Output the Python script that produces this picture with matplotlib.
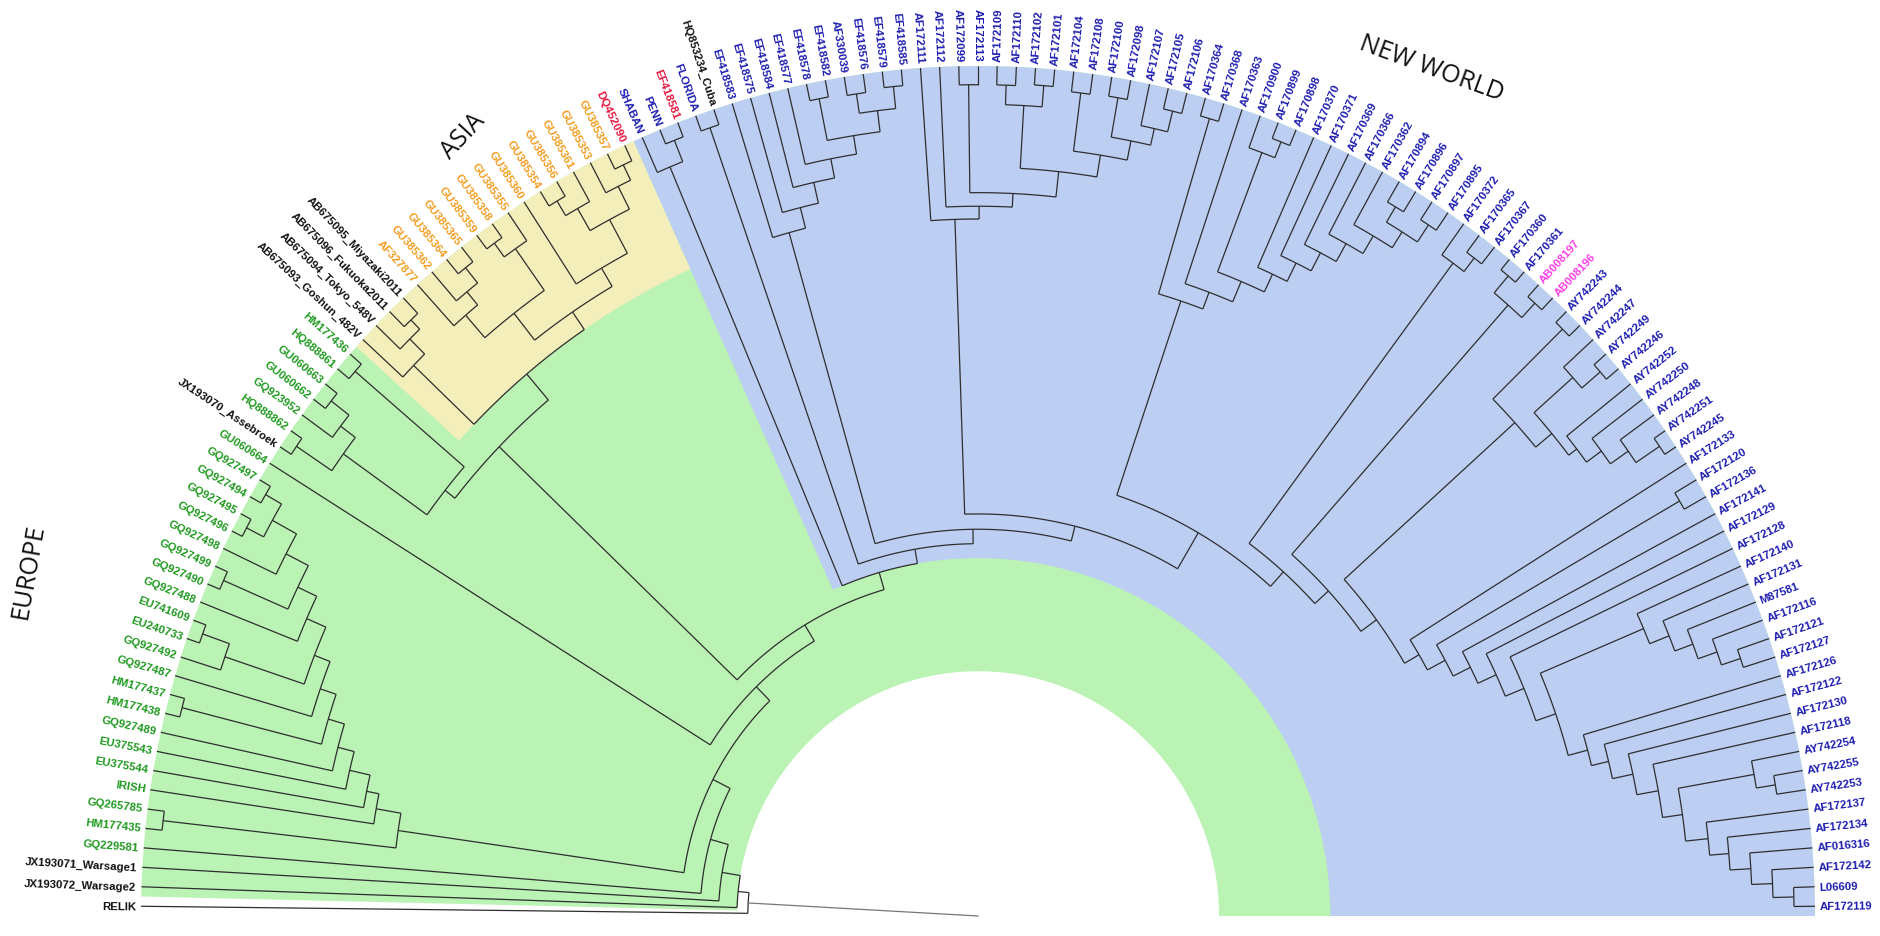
import re
import numpy as np
import matplotlib
matplotlib.use("Agg")
import matplotlib.pyplot as plt
from matplotlib.patches import Wedge
from matplotlib.collections import LineCollection

# ---------------------------------------------------------------------------
# Tree data: Newick-like strings, internal node labels are node ages given as
# a fraction of the root-to-tip distance (0 = tips, 1 = centre of the fan).
# Leaves are listed from the bottom-left of the fan to the bottom-right.
# ---------------------------------------------------------------------------
EUROPE = ("((HM177435,GQ265785)0.02,(IRISH,(EU375544,(EU375543,(GQ927489,"
          "((HM177438,HM177437)0.018,(GQ927487,((GQ927492,(EU240733,EU741609)0.016)0.05,"
          "(GQ927488,((GQ927490,GQ927499)0.016,(GQ927498,((GQ927496,GQ927495)0.014,"
          "(GQ927494,GQ927497)0.015)0.037)0.07)0.10)0.125)0.15)0.17)0.19)0.21)0.23)0.255)0.27)0.30")
EUROPE_TOP = ("(((JX193070_Assebroek,HQ888862)0.016,(GQ923952,(GU060662,GU060663)0.018)0.045)0.067,"
              "(HQ888861,HM177436)0.018)0.19")
ASIA = ("((AB675093_Goshun_482V,(AB675094_Tokyo_548V,(AB675096_Fukuoka2011,AB675095_Miyazaki2011)0.025)0.04)0.065,"
        "(((AF327877,(GU385362,(GU385364,GU385365)0.022)0.045)0.065,((GU385359,GU385358)0.02,GU385355)0.04)0.1,"
        "(GU385360,(((GU385354,GU385356)0.02,GU385361)0.04,(GU385353,(GU385357,DQ452090)0.02)0.04)0.07)0.115)0.14)0.165")
NW_SHABAN = "(SHABAN,(PENN,EF418581)0.018)0.045"
NW_FLORIDA = "(FLORIDA,HQ853234_Cuba)0.019"
NW_EF = ("(EF418583,(EF418575,(EF418584,(EF418577,((EF418578,EF418582)0.02,"
         "((AF330039,EF418576)0.022,(EF418579,EF418585)0.019)0.045)0.07)0.092)0.115)0.14)0.165")
NW_AF1721 = ("(AF172111,(AF172112,((AF172099,AF172113)0.022,(((AF172109,AF172110)0.022,"
             "(AF172102,AF172101)0.02)0.045,((AF172104,AF172108)0.024,((AF172100,AF172098)0.023,"
             "(AF172107,(AF172105,AF172106)0.025)0.05)0.07)0.093)0.119)0.149)0.165)0.18")
NW_AF1703 = ("((AF170364,AF170368)0.022,(AF170363,((AF170900,(AF170899,AF170898)0.02)0.04,"
             "(AF170370,(AF170371,(AF170369,(AF170366,(AF170362,((AF170894,AF170896)0.028,"
             "(AF170897,AF170895)0.025)0.049)0.071)0.095)0.119)0.143)0.167)0.19)0.216)0.237")
NW_AF372 = "(AF170372,(AF170365,AF170367)0.025)0.045"
NW_AF360 = "((AF170360,AF170361)0.016,(AB008197,AB008196)0.019)0.042"
NW_AY = ("((AY742243,AY742244)0.018,((AY742247,(AY742249,AY742246)0.019)0.048,"
         "(AY742252,(AY742250,(AY742248,(AY742251,AY742245)0.016)0.05)0.076)0.098)0.11)0.135")
NW_L140 = "(AF172140,(AF172131,(M87581,(AF172116,(AF172121,AF172127)0.04)0.064)0.088)0.111)0.136"
NW_L126 = ("(AF172126,(AF172122,(AF172130,(AF172118,((AY742254,(AY742255,AY742253)0.035)0.058,"
           "(AF172137,(AF172134,(AF016316,(AF172142,(L06609,AF172119)0.025)0.05)0.075)0.1)0.123)0.15)"
           "0.174)0.2)0.225)0.246")
NW_AF133 = "(AF172133,((AF172120,AF172136)0.03,(AF172141,(AF172129,(AF172128,({L140},{L126})0.27)0.295)0.319)0.343)0.366)0.39"
NW_REST = "({AF1703},({AF372},({AF360},({AY},{AF133})0.41)0.433)0.455)0.478"
NEW_WORLD = "({SHABAN},({FLORIDA},({EF},({AF1721},{REST})0.527)0.545)0.562)0.579"
BACKBONE = ("(RELIK,(JX193072_Warsage2,(JX193071_Warsage1,(GQ229581,({EUROPE},"
            "(GU060664,(({TOP},{ASIA})0.205,{NW})0.60)0.622)0.645)0.668)0.69)0.712)0.725")

# tip label colours
BLACK_TIPS = ["RELIK", "JX193072_Warsage2", "JX193071_Warsage1", "JX193070_Assebroek",
              "AB675093_Goshun_482V", "AB675094_Tokyo_548V", "AB675096_Fukuoka2011",
              "AB675095_Miyazaki2011", "HQ853234_Cuba"]
RED_TIPS = ["DQ452090", "EF418581"]
MAGENTA_TIPS = ["AB008197", "AB008196"]

# highlighted clades: (first tip, last tip, fill colour)
HIGHLIGHTS = [("JX193072_Warsage2", "AF172119", "#baf3b3"),
              ("SHABAN", "AF172119", "#bccff3"),
              ("AB675093_Goshun_482V", "DQ452090", "#f4eebb")]

# region titles: (text, angle in degrees, radius, rotation)
REGIONS = [("EUROPE", 160.3, 1.205, 80.0), ("ASIA", 123.8, 1.105, 47.0),
           ("NEW WORLD", 61.5, 1.135, -20.0)]

COL_GREEN, COL_ORANGE, COL_BLUE = "#1f9a1f", "#f39c1e", "#1d1db0"
COL_RED, COL_MAGENTA, COL_BLACK = "#e8173d", "#ff3ee6", "#111111"

# ---------------------------------------------------------------------------
nw_rest = NW_REST.format(AF1703=NW_AF1703, AF372=NW_AF372, AF360=NW_AF360, AY=NW_AY,
                         AF133=NW_AF133.format(L140=NW_L140, L126=NW_L126))
new_world = NEW_WORLD.format(SHABAN=NW_SHABAN, FLORIDA=NW_FLORIDA, EF=NW_EF,
                             AF1721=NW_AF1721, REST=nw_rest)
newick = BACKBONE.format(EUROPE=EUROPE, TOP=EUROPE_TOP, ASIA=ASIA, NW=new_world)


def parse(s):
    pos = 0

    def node():
        nonlocal pos
        if s[pos] == "(":
            pos += 1
            kids = [node()]
            while s[pos] == ",":
                pos += 1
                kids.append(node())
            pos += 1  # ')'
            m = re.match(r"[0-9.]+", s[pos:])
            age = 0.0
            if m:
                age = float(m.group())
                pos += len(m.group())
            return {"kids": kids, "age": age}
        m = re.match(r"[^,()]+", s[pos:])
        pos += len(m.group())
        return {"name": m.group(), "age": 0.0}

    return node()


root = parse(newick)
leaves = []


def collect(n):
    if "kids" in n:
        for k in n["kids"]:
            collect(k)
    else:
        leaves.append(n)


collect(root)
N = len(leaves)
step = 180.0 / N
for i, lf in enumerate(leaves):
    lf["theta"] = 180.0 - (i + 0.5) * step
    lf["idx"] = i


def place(n):
    if "kids" in n:
        for k in n["kids"]:
            place(k)
        n["theta"] = 0.5 * (n["kids"][0]["theta"] + n["kids"][-1]["theta"])
        n["tips"] = [t for k in n["kids"] for t in k["tips"]]
    else:
        n["tips"] = [n["name"]]


place(root)


def pol(r, t):
    t = np.radians(t)
    return r * np.cos(t), r * np.sin(t)


segs = []


def branches(n):
    if "kids" not in n:
        return
    r = 1.0 - n["age"]
    t0, t1 = n["kids"][0]["theta"], n["kids"][-1]["theta"]
    ts = np.linspace(t0, t1, max(2, int(abs(t0 - t1) * 3) + 2))
    xs, ys = pol(r, ts)
    segs.append(np.column_stack([xs, ys]))
    for k in n["kids"]:
        rk = 1.0 - k["age"]
        segs.append([pol(r, k["theta"]), pol(rk, k["theta"])])
        branches(k)


branches(root)


def mrca(a, b):
    n = root
    while "kids" in n:
        nxt = None
        for k in n["kids"]:
            if a in k["tips"] and b in k["tips"]:
                nxt = k
        if nxt is None:
            break
        n = nxt
    return n


# ---------------------------------------------------------------------------
W, H, DPI = 1881, 937, 100
CX, CY = 978.0, 917.0          # fan centre in pixels
RX, RY = 837.0, 850.0          # tip radius in pixels (horizontal, vertical)
fig = plt.figure(figsize=(W / DPI, H / DPI), dpi=DPI)
ax = fig.add_axes([0, 0, 1, 1])
ax.set_xlim(-CX / RX, (W - CX) / RX)
ax.set_ylim(-(H - CY) / RY, CY / RY)
ax.set_aspect("auto")
ax.axis("off")

name_to_leaf = {lf["name"]: lf for lf in leaves}
for first, last, col in HIGHLIGHTS:
    node = mrca(first, last)
    r0 = 1.0 - node["age"]
    t_hi = name_to_leaf[first]["theta"] + step / 2
    t_lo = name_to_leaf[last]["theta"] - step / 2
    ax.add_patch(Wedge((0, 0), 1.0, t_lo, t_hi, width=1.0 - r0, facecolor=col,
                       edgecolor="none", zorder=1))

ax.add_collection(LineCollection(segs, colors="#2e2e2e", linewidths=0.9, zorder=3))
# root branch running into the centre of the fan
ax.plot(*zip(pol(1.0 - root["age"], root["theta"]), pol(0.0, root["theta"])),
        color="#777777", lw=0.9, zorder=3)

asia_names = set(re.findall(r"[A-Za-z][A-Za-z0-9_]*", ASIA))
nw_names = set(re.findall(r"[A-Za-z][A-Za-z0-9_]*", new_world))

for lf in leaves:
    nm = lf["name"]
    if nm in BLACK_TIPS:
        col = COL_BLACK
    elif nm in RED_TIPS:
        col = COL_RED
    elif nm in MAGENTA_TIPS:
        col = COL_MAGENTA
    elif nm in asia_names:
        col = COL_ORANGE
    elif nm in nw_names:
        col = COL_BLUE
    else:
        col = COL_GREEN
    t = lf["theta"]
    x, y = pol(1.0 + 5.0 / RX, t)
    if lf["idx"] < N / 2:
        rot, ha = t - 180.0, "right"
    else:
        rot, ha = t, "left"
    ax.text(x, y, nm, rotation=rot, rotation_mode="anchor", ha=ha, va="center",
            fontsize=8.2, fontweight="bold", color=col,
            family=["Liberation Sans", "DejaVu Sans"], zorder=4)

for txt, ang, rad, rot in REGIONS:
    x, y = pol(rad, ang)
    ax.text(x, y, txt, rotation=rot, rotation_mode="anchor", ha="center",
            va="center", fontsize=18, color="#111111",
            family=["Open Sans", "DejaVu Sans"])

fig.savefig("out.png", dpi=DPI, facecolor="white")
